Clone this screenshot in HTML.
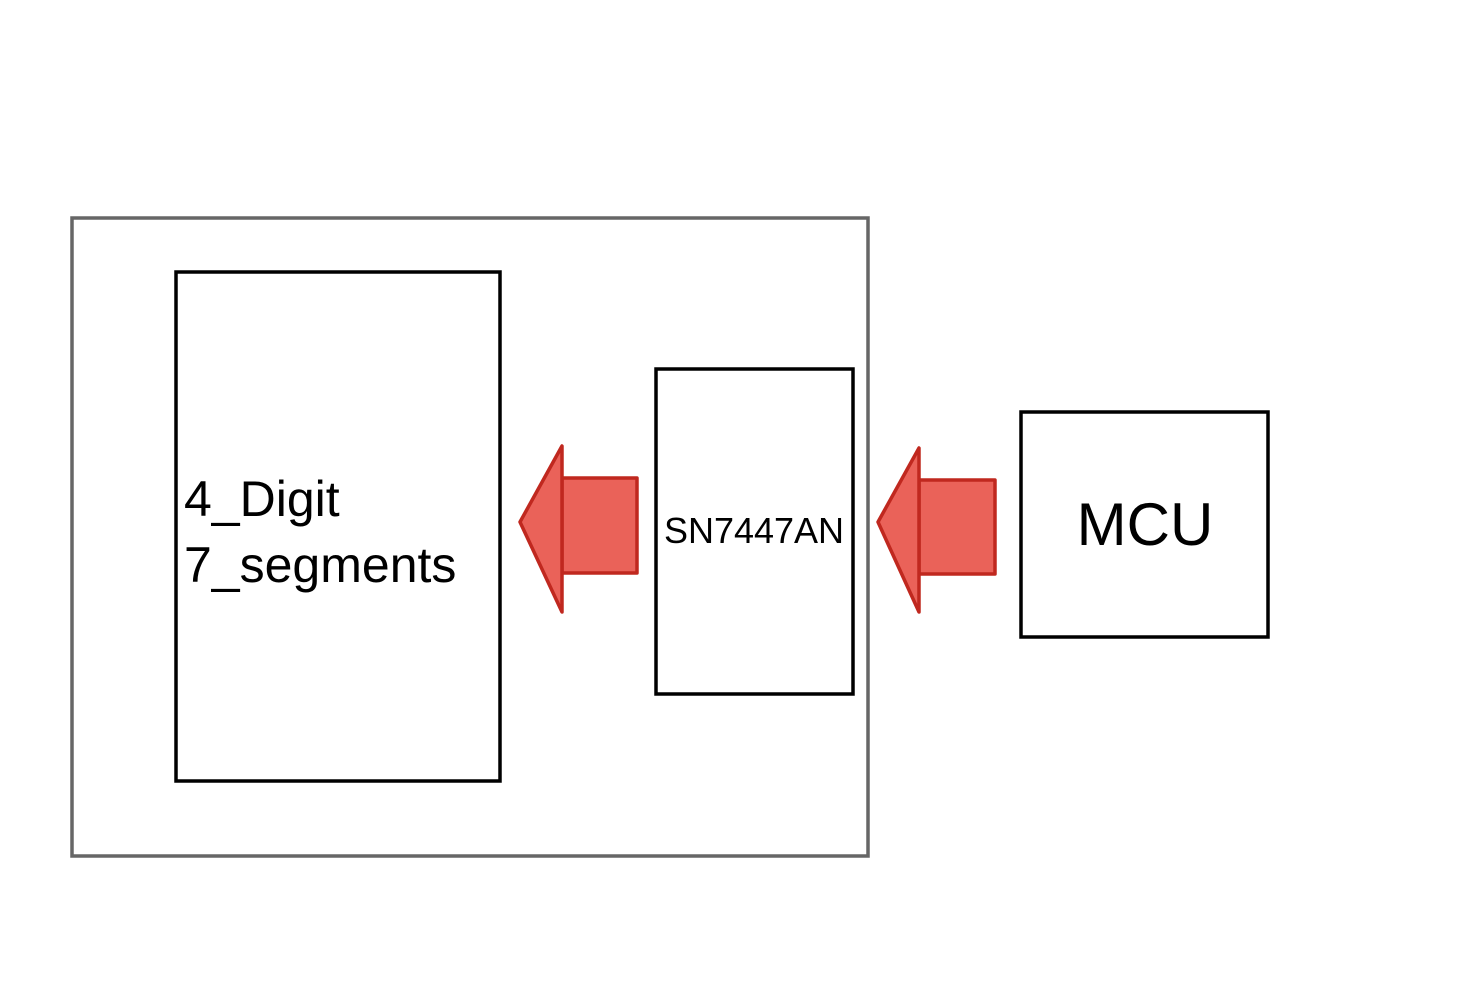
<!DOCTYPE html>
<html><head><meta charset="utf-8"><style>html,body{margin:0;padding:0;background:#fff}</style></head>
<body>
<svg width="1464" height="1000" xmlns="http://www.w3.org/2000/svg" style="display:block">
<rect x="0" y="0" width="1464" height="1000" fill="#fff"/>
<rect x="72" y="218" width="796" height="638" fill="none" stroke="#666" stroke-width="3.5"/>
<rect x="176" y="272" width="324" height="509" fill="none" stroke="#000" stroke-width="3.5"/>
<rect x="656" y="369" width="197" height="325" fill="none" stroke="#000" stroke-width="3.5"/>
<rect x="1021" y="412" width="247" height="225" fill="none" stroke="#000" stroke-width="3.5"/>
<g fill="#ea6259" stroke="#c0281f" stroke-width="3.5" stroke-linejoin="round">
<rect x="562" y="478" width="75" height="95"/>
<polygon points="520,522 562,446 562,612"/>
<rect x="919" y="480" width="76" height="94"/>
<polygon points="878,522 919,448 919,612"/>
</g>
<g font-family="Liberation Sans, sans-serif" fill="#000">
<text x="184" y="516" font-size="50">4_Digit</text>
<text x="184" y="582" font-size="50">7_segments</text>
<text x="754" y="543" font-size="36" text-anchor="middle">SN7447AN</text>
<text x="1145" y="545" font-size="60" text-anchor="middle">MCU</text>
</g>
</svg>
</body></html>
